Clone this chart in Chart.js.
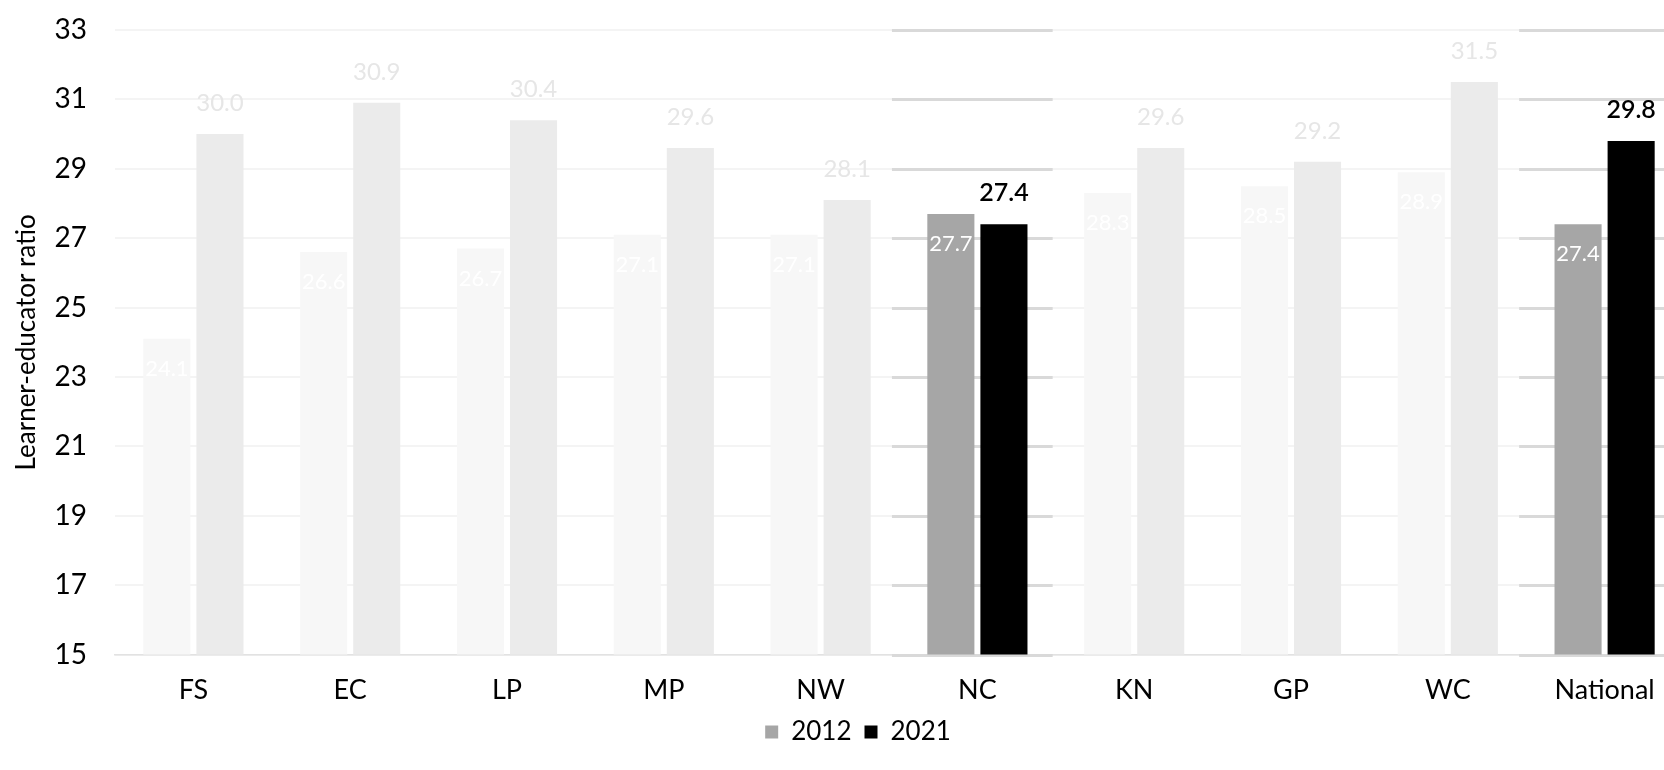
<!DOCTYPE html>
<html>
<head>
<meta charset="utf-8">
<script src="https://cdn.jsdelivr.net/npm/chart.js@4.4.1/dist/chart.umd.min.js"></script>
<style>
  html, body { margin: 0; padding: 0; background: #ffffff; overflow: hidden; }
  #wrap { width: 1716px; height: 770px; }
</style>
</head>
<body>
<div id="wrap"><canvas id="chart" width="1716" height="770"></canvas></div>
<script>
// Learner-educator ratio by province, 2012 vs 2021
const provinces = ['FS', 'EC', 'LP', 'MP', 'NW', 'NC', 'KN', 'GP', 'WC', 'National'];
const ratio2012 = [24.1, 26.6, 26.7, 27.1, 27.1, 27.7, 28.3, 28.5, 28.9, 27.4];
const ratio2021 = [30.0, 30.9, 30.4, 29.6, 28.1, 27.4, 29.6, 29.2, 31.5, 29.8];
const seriesNames = ['2012', '2021'];
const highlighted = ['NC', 'National'];
const yMin = 15, yMax = 33, yStep = 2;

const FONT = 'Lato, "Open Sans", sans-serif';
const strongColors = ['#a6a6a6', '#000000'];
const fadedColors = ['#f7f7f7', '#ebebeb'];
const clear = 'rgba(255,255,255,0)';

const isFocus = (i) => highlighted.includes(provinces[i]);

function barColor(series) {
  return (ctx) => {
    if (ctx.type === 'data' && ctx.dataIndex !== undefined && !isFocus(ctx.dataIndex)) return fadedColors[series];
    return strongColors[series];
  };
}

// darker gridline segments behind the highlighted categories
const focusGrid = {
  id: 'focusGrid',
  beforeDatasetsDraw(chart) {
    const { ctx, scales: { x, y } } = chart;
    const band = x.getPixelForValue(1) - x.getPixelForValue(0);
    ctx.save();
    ctx.strokeStyle = '#d9d9d9';
    ctx.lineWidth = 3;
    provinces.forEach((p, i) => {
      if (!isFocus(i)) return;
      const cx = x.getPixelForValue(i);
      const x0 = cx - band * 0.545;
      const x1 = Math.min(cx + band * 0.48, chart.width);
      y.ticks.forEach(t => {
        const py = Math.round(y.getPixelForValue(t.value)) + 0.5;
        ctx.beginPath();
        ctx.moveTo(x0, py);
        ctx.lineTo(x1, py);
        ctx.stroke();
      });
    });
    ctx.restore();
  }
};

// value labels: 2012 inside the bar top, 2021 above the bar
const valueLabels = {
  id: 'valueLabels',
  afterDatasetsDraw(chart) {
    const { ctx } = chart;
    ctx.save();
    ctx.textAlign = 'center';
    ctx.textBaseline = 'middle';
    chart.data.datasets.forEach((ds, di) => {
      const meta = chart.getDatasetMeta(di);
      meta.data.forEach((bar, i) => {
        const txt = ds.data[i].toFixed(1);
        if (di === 0) {
          ctx.font = '22px ' + FONT;
          ctx.fillStyle = '#ffffff';
          ctx.fillText(txt, bar.x, bar.y + 30);
        } else {
          if (isFocus(i)) {
            ctx.font = '600 25px ' + FONT;
            ctx.fillStyle = '#000000';
          } else {
            ctx.font = '24px ' + FONT;
            ctx.fillStyle = '#e6e6e6';
          }
          ctx.fillText(txt, bar.x, bar.y - 31);
        }
      });
    });
    ctx.restore();
  }
};

new Chart(document.getElementById('chart'), {
  type: 'bar',
  data: {
    labels: provinces,
    datasets: [
      { label: seriesNames[0], data: ratio2012, backgroundColor: barColor(0), borderWidth: 0,
        categoryPercentage: 0.677, barPercentage: 0.887 },
      { label: seriesNames[1], data: ratio2021, backgroundColor: barColor(1), borderWidth: 0,
        categoryPercentage: 0.677, barPercentage: 0.887 }
    ]
  },
  options: {
    responsive: false,
    animation: false,
    devicePixelRatio: 1,
    layout: { padding: { top: 30, right: 33, bottom: 15, left: 33 } },
    plugins: {
      legend: {
        position: 'bottom',
        labels: {
          font: { family: FONT, size: 26 },
          color: '#000000',
          boxWidth: 13,
          boxHeight: 13,
          padding: 13,
          generateLabels: (chart) => chart.data.datasets.map((ds, i) => ({
            text: ds.label,
            fillStyle: strongColors[i],
            strokeStyle: strongColors[i],
            lineWidth: 0,
            hidden: false,
            datasetIndex: i,
            fontColor: '#000000'
          }))
        }
      },
      tooltip: { enabled: false }
    },
    scales: {
      x: {
        grid: { display: true, drawOnChartArea: false, drawTicks: true, tickLength: 19, tickColor: clear, color: clear },
        border: { display: true, color: '#e2e2e2', width: 1.5 },
        ticks: { font: { family: FONT, size: 27 }, color: '#000000', padding: 0, maxRotation: 0 }
      },
      y: {
        min: yMin,
        max: yMax,
        ticks: { stepSize: yStep, font: { family: FONT, size: 28 }, color: '#000000', padding: 0 },
        grid: { color: '#f4f4f4', lineWidth: 2, drawTicks: true, tickLength: 28, tickColor: clear },
        border: { display: false },
        title: {
          display: true,
          text: 'Learner-educator ratio',
          font: { family: FONT, size: 26 },
          color: '#000000',
          padding: { top: -22, bottom: 0 }
        },
        afterFit(scale) { scale.width = 82; }
      }
    }
  },
  plugins: [focusGrid, valueLabels]
});
</script>
</body>
</html>
